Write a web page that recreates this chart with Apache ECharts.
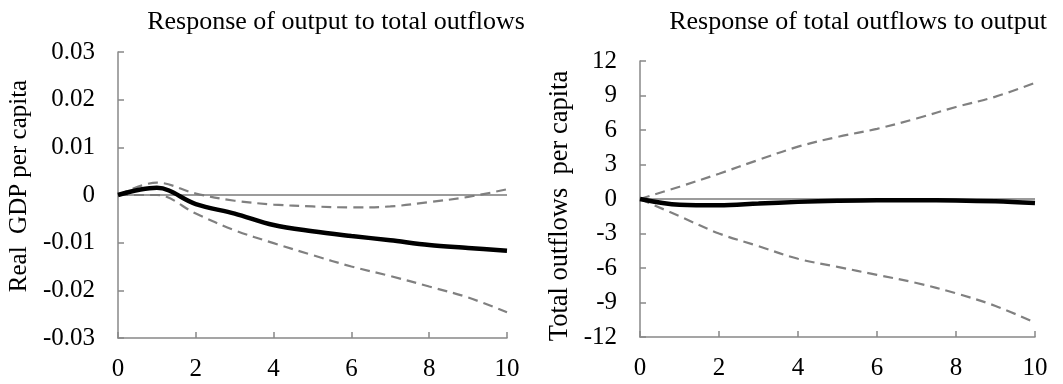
<!DOCTYPE html>
<html><head><meta charset="utf-8">
<script src="https://cdn.jsdelivr.net/npm/echarts@6/dist/echarts.min.js"></script>
<style>html,body{margin:0;padding:0;background:#fff}#c{width:1063px;height:384px}</style>
</head><body><div id="c"></div>
<script>
const periods = [0,1,2,3,4,5,6,7,8,9,10];
const leftTitle = "Response of output to total outflows";
const rightTitle = "Response of total outflows to output";
const leftYName = "Real  GDP per capita";
const rightYName = "Total outflows  per capita";
const leftYTicks = [-0.03,-0.02,-0.01,0,0.01,0.02,0.03];
const rightYTicks = [-12,-9,-6,-3,0,3,6,9,12];
const xTicks = [0,2,4,6,8,10];

const outResp  = [0, 0.0015, -0.0019, -0.0039, -0.0063, -0.0076, -0.0086, -0.0095, -0.0105, -0.0111, -0.0117];
const outUpper = [0, 0.0026, 0.0003, -0.0012, -0.0020, -0.0024, -0.0026, -0.0024, -0.0015, -0.0004, 0.0012];
const outLower = [0, 0.0000, -0.0039, -0.0074, -0.0101, -0.0126, -0.0150, -0.0170, -0.0192, -0.0215, -0.0246];

const flowResp  = [0, -0.5, -0.55, -0.4, -0.25, -0.15, -0.1, -0.1, -0.12, -0.2, -0.35];
const flowUpper = [0, 1.07, 2.2, 3.4, 4.55, 5.4, 6.1, 7.0, 8.0, 8.9, 10.1];
const flowLower = [0, -1.5, -3.0, -4.1, -5.2, -5.9, -6.6, -7.3, -8.2, -9.3, -10.75];

const pairs = v => periods.map((p,i)=>[p, v[i]]);
const FONT = "'Liberation Serif','Times New Roman',serif";
const AX = '#888888';
const DASH = '#808080';
const FS = 25;

function xAxis(gi){
  return {type:'value', gridIndex:gi, min:0, max:10, interval:2,
    axisLine:{show:true, onZero:false, lineStyle:{color:AX, width:1.5}},
    axisTick:{show:true, inside:true, length:6, lineStyle:{color:AX, width:1.5}},
    splitLine:{show:false},
    axisLabel:{color:'#000', fontFamily:FONT, fontSize:FS, margin:19,
      formatter:v=>xTicks.includes(v)?String(v):''}};
}
function yAxis(gi, ticks, name, gap, pad, nfs){
  const iv = ticks[1]-ticks[0];
  return {type:'value', gridIndex:gi, min:ticks[0], max:ticks[ticks.length-1], interval:iv,
    name:name, nameLocation:'middle', nameGap:gap,
    nameTextStyle:{color:'#000', fontFamily:FONT, fontSize:nfs, padding:pad},
    axisLine:{show:true, lineStyle:{color:AX, width:1.5}},
    axisTick:{show:true, inside:true, length:6, lineStyle:{color:AX, width:1.5}},
    splitLine:{show:false},
    axisLabel:{color:'#000', fontFamily:FONT, fontSize:FS, margin:23,
      formatter:v=>{const r=Math.round(v*1000)/1000; return String(r===0?0:r);}}};
}
function solid(gi, d){
  return {type:'line', xAxisIndex:gi, yAxisIndex:gi, data:pairs(d), smooth:0.35,
    symbol:'none', lineStyle:{color:'#000', width:4.5}, z:5,
    markLine:{silent:true, symbol:'none', label:{show:false},
      lineStyle:{color:'#7a7a7a', width:1.5, type:'solid'}, data:[{yAxis:0}]}};
}
function dashed(gi, d){
  return {type:'line', xAxisIndex:gi, yAxisIndex:gi, data:pairs(d), smooth:0.35,
    symbol:'none', lineStyle:{color:DASH, width:2.2, type:[10,6]}, z:4};
}

const chart = echarts.init(document.getElementById('c'), null, {renderer:'canvas'});
chart.setOption({
  animation:false,
  backgroundColor:'#fff',
  title:[
    {text:leftTitle, left:331, top:4, textAlign:'center',
      textStyle:{fontFamily:FONT, fontSize:26, fontWeight:'normal', color:'#000'}},
    {text:rightTitle, left:853, top:4, textAlign:'center',
      textStyle:{fontFamily:FONT, fontSize:26, fontWeight:'normal', color:'#000'}}
  ],
  grid:[
    {left:118, right:556, top:52, bottom:46},
    {left:640, right:28, top:61, bottom:47}
  ],
  xAxis:[xAxis(0), xAxis(1)],
  yAxis:[yAxis(0, leftYTicks, leftYName, 86, [0,0,0,18], 25), yAxis(1, rightYTicks, rightYName, 66, [0,14,0,0], 26.5)],
  series:[
    solid(0, outResp), dashed(0, outUpper), dashed(0, outLower),
    solid(1, flowResp), dashed(1, flowUpper), dashed(1, flowLower)
  ]
});
</script></body></html>
